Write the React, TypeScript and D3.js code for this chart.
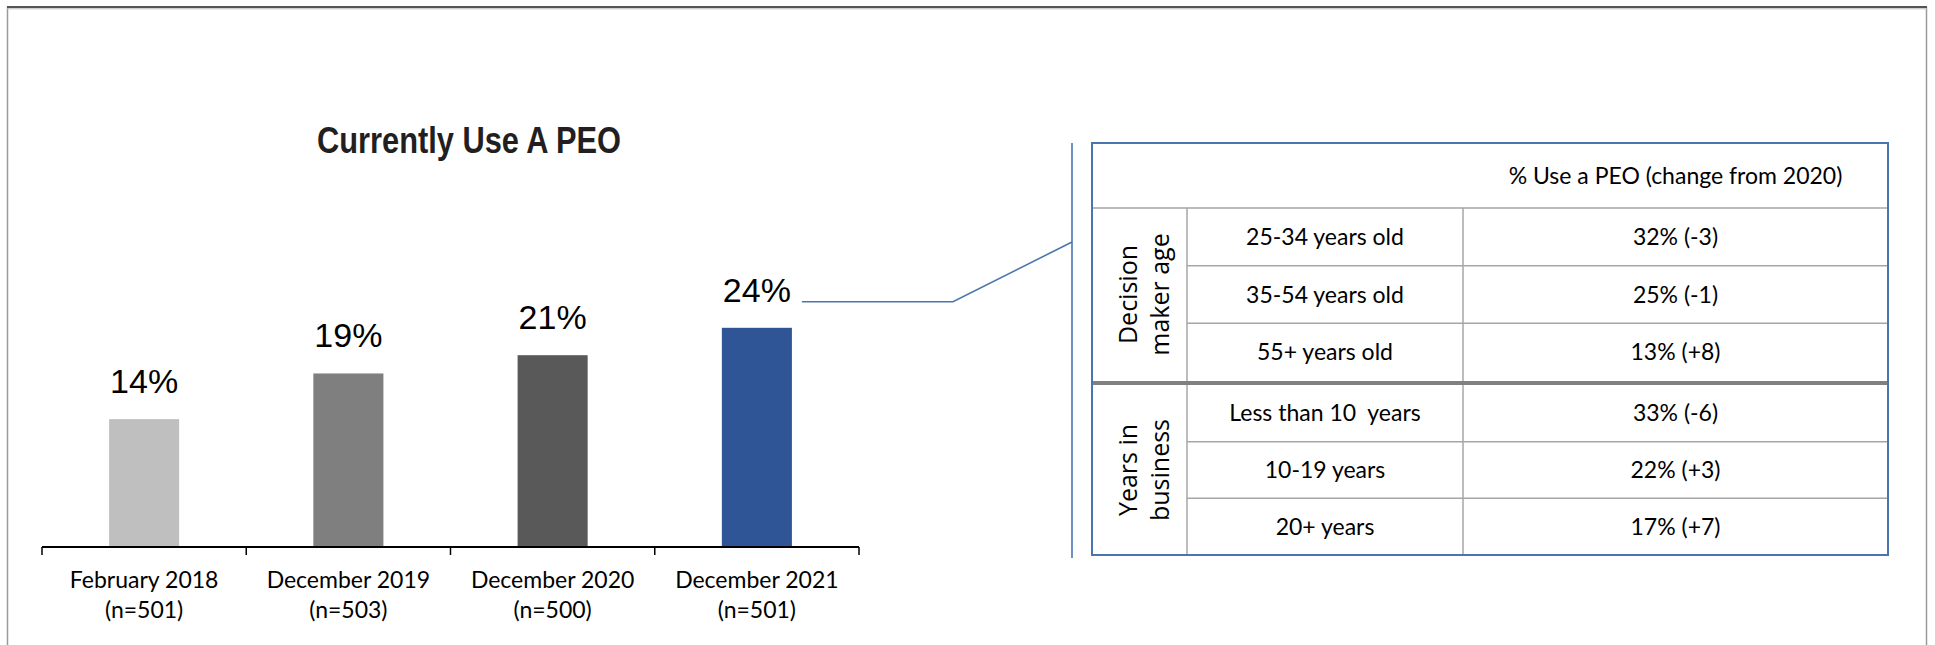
import React from "react";
import * as d3 from "d3";

const categories = ["February 2018", "December 2019", "December 2020", "December 2021"];
const sampleSizes = ["(n=501)", "(n=503)", "(n=500)", "(n=501)"];
const values = [14, 19, 21, 24];
const barColors = ["#bfbfbf", "#7f7f7f", "#595959", "#2f5597"];

const tableHeader = "% Use a PEO (change from 2020)";
const ageLabel = ["Decision", "maker age"];
const ageRows = ["25-34 years old", "35-54 years old", "55+ years old"];
const ageValues = ["32% (-3)", "25% (-1)", "13% (+8)"];
const businessLabel = ["Years in", "business"];
const businessRows = ["Less than 10  years", "10-19 years", "20+ years"];
const businessValues = ["33% (-6)", "22% (+3)", "17% (+7)"];

const W = 1935;
const H = 645;

export default function App() {
  const x = d3
    .scaleBand<string>()
    .domain(categories)
    .range([42, 859])
    .paddingInner(0.657)
    .paddingOuter(0.3285);
  const y = d3.scaleLinear().domain([0, 30]).range([547, 273]);
  const step = x.step();
  const tickXs = d3.range(categories.length + 1).map((i) => 42 + i * step);
  const bw = x.bandwidth();

  const lastCat = categories[categories.length - 1];
  const lastCx = (x(lastCat) as number) + bw / 2;
  const lastLabelY = y(values[values.length - 1]) - 26;

  // table layout
  const tL = 1092, tR = 1888, c1 = 1187, c2 = 1463;
  const tTop = 143, headBot = 208, sepTop = 381, sepBot = 385, tBot = 555;
  const ageY = d3.scaleBand<number>().domain(d3.range(3)).range([headBot, sepTop]);
  const busY = d3.scaleBand<number>().domain(d3.range(3)).range([sepBot, tBot]);
  const cellFont = "Lato, 'Open Sans', sans-serif";
  const blue = "#4a76ad";
  const grid = "#a6a6a6";

  const renderGroup = (
    label: string[],
    rows: string[],
    vals: string[],
    band: d3.ScaleBand<number>,
    top: number,
    bottom: number,
    key: string
  ) => {
    const cy = (top + bottom) / 2;
    const cx = (tL + c1) / 2;
    return (
      <g key={key}>
        {rows.map((r, i) => {
          const yy = band(i) as number;
          const mid = yy + band.bandwidth() / 2;
          return (
            <g key={r}>
              {i > 0 && (
                <line x1={c1} x2={tR} y1={yy} y2={yy} stroke={grid} strokeWidth={1.5} />
              )}
              <text
                x={(c1 + c2) / 2}
                y={mid + 8}
                textAnchor="middle"
                fontFamily={cellFont}
                fontSize={23}
                fill="#000"
                style={{ whiteSpace: "pre" }}
              >
                {r}
              </text>
              <text
                x={(c2 + tR) / 2}
                y={mid + 8}
                textAnchor="middle"
                fontFamily={cellFont}
                fontSize={23}
                fill="#000"
              >
                {vals[i]}
              </text>
            </g>
          );
        })}
        <line x1={c1} x2={c1} y1={top} y2={bottom} stroke={grid} strokeWidth={1.5} />
        <line x1={c2} x2={c2} y1={top} y2={bottom} stroke={grid} strokeWidth={1.5} />
        <text
          transform={`translate(${cx},${cy}) rotate(-90)`}
          textAnchor="middle"
          fontFamily="'Open Sans', 'DejaVu Sans', sans-serif"
          fontSize={25}
          fill="#000"
        >
          <tspan x={0} y={-3}>{label[0]}</tspan>
          <tspan x={0} y={29}>{label[1]}</tspan>
        </text>
      </g>
    );
  };

  return (
    <svg
      width={W}
      height={H}
      style={{ position: "absolute", left: 0, top: 0, background: "#fff" }}
    >
      {/* page frame */}
      <line x1={7.5} x2={7.5} y1={7} y2={H} stroke="#9a9a9a" strokeWidth={1.5} />
      <line x1={1926.5} x2={1926.5} y1={7} y2={H} stroke="#9a9a9a" strokeWidth={1.5} />
      <line x1={7} x2={1927} y1={7} y2={7} stroke="#555" strokeWidth={2} />
      <line x1={7} x2={1927} y1={8.8} y2={8.8} stroke="#bbb" strokeWidth={1} />

      {/* title */}
      <text
        x={469}
        y={153}
        textAnchor="middle"
        fontFamily="'Liberation Sans Narrow', 'Liberation Sans', Arial, sans-serif"
        fontWeight="bold"
        fontSize={36}
        fill="#231f20"
        textLength={304}
        lengthAdjust="spacingAndGlyphs"
      >
        Currently Use A PEO
      </text>

      {/* bars */}
      {categories.map((c, i) => (
        <rect
          key={c}
          x={x(c)}
          y={y(values[i])}
          width={bw}
          height={y(0) - y(values[i])}
          fill={barColors[i]}
        />
      ))}

      {/* value labels */}
      {categories.map((c, i) => (
        <text
          key={c + "v"}
          x={(x(c) as number) + bw / 2}
          y={y(values[i]) - 26}
          textAnchor="middle"
          fontFamily="'Liberation Sans', Arial, sans-serif"
          fontSize={34}
          fill="#000"
        >
          {values[i]}%
        </text>
      ))}

      {/* axis */}
      <line x1={tickXs[0]} x2={tickXs[tickXs.length - 1]} y1={y(0)} y2={y(0)} stroke="#000" strokeWidth={2} />
      {tickXs.map((t, i) => (
        <line key={i} x1={t} x2={t} y1={y(0)} y2={y(0) + 8} stroke="#000" strokeWidth={1.5} />
      ))}
      {categories.map((c, i) => (
        <text
          key={c + "l"}
          x={(x(c) as number) + bw / 2}
          textAnchor="middle"
          fontFamily={cellFont}
          fontSize={23}
          fill="#000"
        >
          <tspan x={(x(c) as number) + bw / 2} y={588}>{c}</tspan>
          <tspan x={(x(c) as number) + bw / 2} y={618}>{sampleSizes[i]}</tspan>
        </text>
      ))}

      {/* connector */}
      <polyline
        points={`${lastCx + 45},${lastLabelY} 953,${lastLabelY} 1072,242`}
        fill="none"
        stroke={blue}
        strokeWidth={1.6}
      />
      <line x1={1072} x2={1072} y1={143} y2={558} stroke={blue} strokeWidth={1.6} />

      {/* table */}
      <text
        x={(c2 + tR) / 2}
        y={(tTop + headBot) / 2 + 8}
        textAnchor="middle"
        fontFamily={cellFont}
        fontSize={23}
        fill="#000"
      >
        {tableHeader}
      </text>
      <line x1={tL} x2={tR} y1={headBot} y2={headBot} stroke={grid} strokeWidth={1.5} />
      {renderGroup(ageLabel, ageRows, ageValues, ageY, headBot, sepTop, "age")}
      {renderGroup(businessLabel, businessRows, businessValues, busY, sepBot, tBot, "bus")}
      <rect x={tL} y={sepTop} width={tR - tL} height={sepBot - sepTop} fill="#808080" />
      <rect
        x={tL}
        y={tTop}
        width={tR - tL}
        height={tBot - tTop}
        fill="none"
        stroke={blue}
        strokeWidth={2}
      />
    </svg>
  );
}
